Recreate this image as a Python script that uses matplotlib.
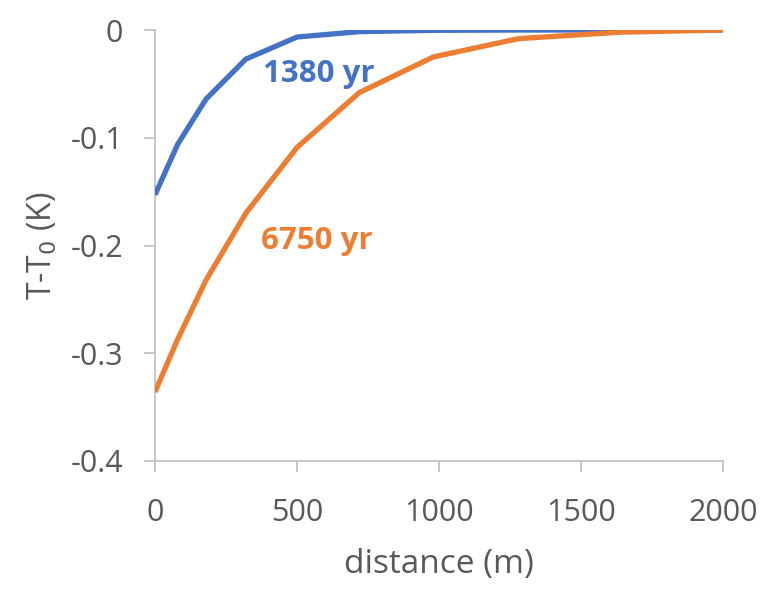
import matplotlib
matplotlib.use("Agg")
import matplotlib.pyplot as plt

# Temperature anomaly profiles vs. distance
distance = [0, 80, 180, 320, 500, 720, 980, 1280, 1640, 2000]
dT_1380 = [-0.153, -0.106, -0.064, -0.027, -0.0065, -0.0015, -0.0003, 0.0, 0.0, 0.0]
dT_6750 = [-0.336, -0.287, -0.232, -0.170, -0.109, -0.058, -0.025, -0.008, -0.002, 0.0]

x_ticks = [0, 500, 1000, 1500, 2000]
y_ticks = [0, -0.1, -0.2, -0.3, -0.4]
y_tick_labels = ["0", "-0.1", "-0.2", "-0.3", "-0.4"]

blue = "#4472C4"
orange = "#ED7D31"
grey = "#595959"
axis_grey = "#BFBFBF"

plt.rcParams["font.family"] = ["Open Sans", "DejaVu Sans"]

fig = plt.figure(figsize=(7.68, 5.91), dpi=100)
ax = fig.add_axes([0.2018, 0.2200, 0.7396, 0.7292])

ax.plot(distance, dT_1380, color=blue, lw=3.8, solid_capstyle="butt", zorder=3)
ax.plot(distance, dT_6750, color=orange, lw=3.8, solid_capstyle="butt", zorder=3)

ax.set_xlim(0, 2000)
ax.set_ylim(-0.4, 0)
ax.set_xticks(x_ticks)
ax.set_yticks(y_ticks)
ax.set_yticklabels(y_tick_labels)

for side in ("top", "right"):
    ax.spines[side].set_visible(False)
for side in ("left", "bottom"):
    ax.spines[side].set_color(axis_grey)
    ax.spines[side].set_linewidth(1.2)

ax.tick_params(axis="both", colors=axis_grey, length=8, width=1.2,
               labelsize=22, labelcolor=grey)
ax.tick_params(axis="y", pad=15)
ax.tick_params(axis="x", pad=19)

ax.set_xlabel("distance (m)", fontsize=24, color=grey, labelpad=14)
ax.set_ylabel("T-T$_0$ (K)", fontsize=23, color=grey, labelpad=8)

ax.text(380, -0.041, "1380 yr", color=blue, fontsize=22.5, fontweight="bold",
        ha="left", va="center")
ax.text(375, -0.196, "6750 yr", color=orange, fontsize=22.5, fontweight="bold",
        ha="left", va="center")

fig.savefig("out.png", dpi=100)
